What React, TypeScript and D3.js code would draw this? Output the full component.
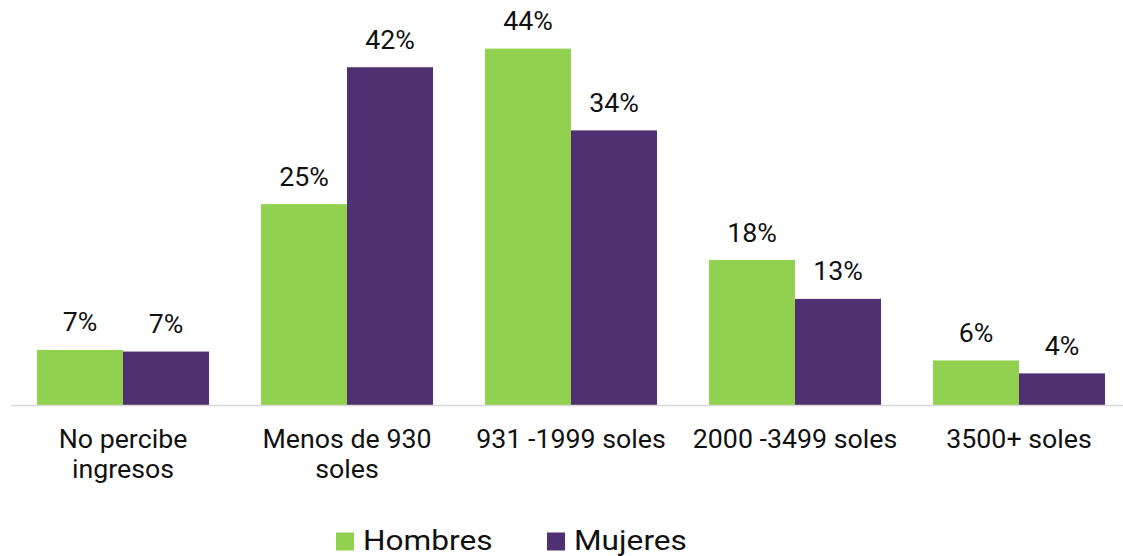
import { useEffect, useRef } from 'react';
import * as d3 from 'd3';

const categories = ['No percibe ingresos', 'Menos de 930 soles', '931 -1999 soles', '2000 -3499 soles', '3500+ soles'];
const categoryLines = [['No percibe', 'ingresos'], ['Menos de 930', 'soles'], ['931 -1999 soles'], ['2000 -3499 soles'], ['3500+ soles']];
const seriesNames = ['Hombres', 'Mujeres'];
const hombres = [6.8, 24.8, 44.0, 17.9, 5.5];
const mujeres = [6.6, 41.7, 33.9, 13.1, 3.9];
const seriesColors = ['#92D050', '#4F3171'];

export default function App() {
  const svgRef = useRef<SVGSVGElement>(null);

  useEffect(() => {
    if (!svgRef.current) return;
    const width = 1123;
    const height = 556;
    const font = 'Roboto, "Noto Sans", sans-serif';
    const stretch = 1.07;

    const svg = d3.select(svgRef.current);
    svg.selectAll('*').remove();
    svg.attr('width', width).attr('height', height);

    const baseline = 405;
    const x = d3.scaleBand<string>()
      .domain(categories)
      .range([11, 1131])
      .paddingInner(0.232)
      .paddingOuter(0.116);

    const xs = d3.scaleBand<string>()
      .domain(seriesNames)
      .range([0, x.bandwidth()]);

    const y = d3.scaleLinear().domain([0, 50]).range([baseline, 0]);

    const data = categories.map((c, i) => ({ c, values: [hombres[i], mujeres[i]] }));

    const groups = svg.selectAll('g.grp')
      .data(data)
      .enter()
      .append('g')
      .attr('class', 'grp')
      .attr('transform', d => `translate(${x(d.c)},0)`);

    groups.selectAll('rect')
      .data(d => d.values.map((v, j) => ({ v, s: seriesNames[j], j })))
      .enter()
      .append('rect')
      .attr('x', d => xs(d.s) as number)
      .attr('y', d => y(d.v))
      .attr('width', xs.bandwidth())
      .attr('height', d => baseline - y(d.v))
      .attr('fill', d => seriesColors[d.j]);

    // value labels (slightly stretched like the source)
    groups.selectAll('text.val')
      .data(d => d.values.map((v, j) => ({ v, s: seriesNames[j] })))
      .enter()
      .append('text')
      .attr('class', 'val')
      .attr('transform', d => `translate(${(xs(d.s) as number) + xs.bandwidth() / 2},${y(d.v) - 18.5}) scale(${stretch},1)`)
      .attr('text-anchor', 'middle')
      .style('font-family', font)
      .style('font-size', '25px')
      .style('fill', '#111')
      .text(d => `${Math.round(d.v)}%`);

    // axis line
    svg.append('line')
      .attr('x1', 11)
      .attr('x2', 1131)
      .attr('y1', baseline + 0.5)
      .attr('y2', baseline + 0.5)
      .attr('stroke', '#d9d9d9')
      .attr('stroke-width', 1.5);

    // category labels
    categories.forEach((c, i) => {
      categoryLines[i].forEach((line, k) => {
        svg.append('text')
          .attr('transform', `translate(${(x(c) as number) + x.bandwidth() / 2},${447.5 + k * 30.5}) scale(${stretch},1)`)
          .attr('text-anchor', 'middle')
          .style('font-family', font)
          .style('font-size', '25px')
          .style('fill', '#111')
          .text(line);
      });
    });

    // legend
    const legendItems = [
      { name: seriesNames[0], color: seriesColors[0], x: 336 },
      { name: seriesNames[1], color: seriesColors[1], x: 547 },
    ];
    legendItems.forEach(item => {
      svg.append('rect')
        .attr('x', item.x)
        .attr('y', 532.5)
        .attr('width', 18)
        .attr('height', 18)
        .attr('fill', item.color);
      svg.append('text')
        .attr('transform', `translate(${item.x + 27},550) scale(1.13,1)`)
        .style('font-family', font)
        .style('font-size', '28px')
        .style('fill', '#111')
        .text(item.name);
    });
  }, []);

  return (
    <div style={{ position: 'absolute', left: 0, top: 0 }}>
      <svg ref={svgRef}></svg>
    </div>
  );
}
